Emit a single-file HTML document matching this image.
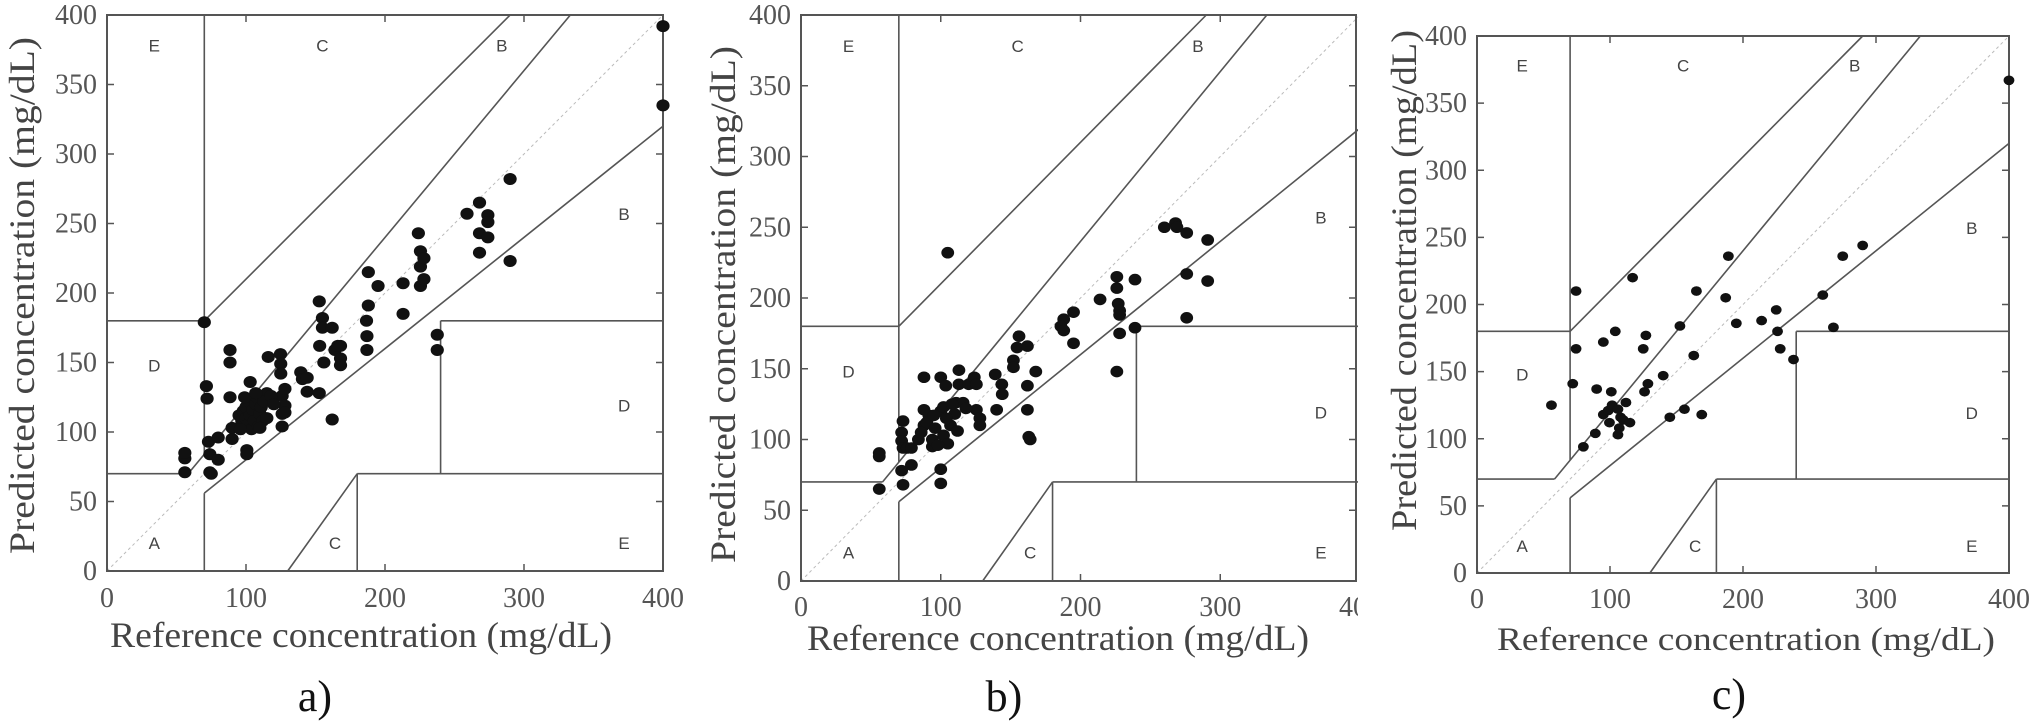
<!DOCTYPE html>
<html><head><meta charset="utf-8"><style>
html,body{margin:0;padding:0;background:#fff;}
svg{display:block;}
</style></head><body>
<svg id="chart" width="2032" height="724" viewBox="0 0 2032 724" xmlns="http://www.w3.org/2000/svg">
<defs><clipPath id="clipb"><rect x="0" y="0" width="1358" height="724"/></clipPath></defs>
</svg>
<script>
const ticks = [0, 100, 200, 300, 400];
const yTicks = [0, 50, 100, 150, 200, 250, 300, 350, 400];
const aRef = [56,56,56,70,71.5,72,73,74,74,75,80,80,88.5,88.5,88.5,90,90,100.6,100.6,103,116,117.5,115,124.8,125,125,126,126,126,128,128,128,139.4,140.6,144,144,152.7,152.7,155,155,153,156,162,162,164,166,168,168,168,188,188,186.7,187,187,195,213,213,224,225.5,225.5,225.5,228,228,237.6,237.6,259,268,268,268,274,274,274,290,290,400,400,95,97,98,100,100,101,102,103,104,105,106,107,108,109,110,111,112,113,115,118,120,96,99,107,110];
const aPred = [71,81,85,179,133,124,93,84,71,70,96,80,159,150,125,103,95,87,84,136,154,123,128,156,149,142,126,113,104,131,119,114,143,138,139,129,194,128,182,175,162,150,175,109,159,162,162,153,148,215,191,180,169,159,205,207,185,243,230,219,205,225,210,170,159,257,265,243,229,256,251,240,282,223,392,335,112,108,115,110,118,105,122,112,102,116,108,120,125,104,113,118,108,122,110,126,120,102,125,128,103];
const bRef = [56,56,56,72,73,73,72,72,73,76,79,79,88,88,88,91.5,94,94,100,100,100,100,105,103.6,102,102,105,107,110,111,113,113,116,120,124,125.5,125.5,128,128,139,140,143.7,144,152,152,154.6,156,162,162,162,163,164,168,84,86,90,96,98,104,108,112,118,95,188,186,188,195,195,214,226,226,227,228,228,228,226,239,239,260,268,269,276,276,276,291,291];
const bPred = [90.5,88,65,78,68,113,105,99,94,94,94,82,144,121,110,117,95,100,144,120,79,69,232,138,123,103,97,110,118,126,139,149,126,139,144,139,121,115,110,146,121,139,132,156,151,165,173,166,138,121,102,100,148,100,105,112,108,96,115,125,106,122,117,185,180,177,190,168,199,215,207,196,191,188,175,148,213,179,250,253,250,246,217,186,241,212];
const cRef = [56,72,74.5,74.5,80,89,90,95,95,99.6,98.7,101.6,101,104,106,107,108,110,112,115,106,117,125,126,127,128.5,140,145,152.6,156,163,165,169,187,189,195,214,225,226,228,238,260,268,275,290,400];
const cPred = [125,141,167,210,94,104,137,172,118,112,121,125,135,180,103,108,116,114,127,112,122,220,167,135,177,141,147,116,184,122,162,210,118,205,236,186,188,196,180,167,159,207,183,236,244,367];
const zoneLetters = ['A','B','B','C','C','D','D','E','E'];
const zoneLX = [34,284,372,155,164,34,372,34,372];
const zoneLY = [20,378,257,378,20,148,119,378,20];

const NS='http://www.w3.org/2000/svg';
const svg=document.getElementById('chart');
const SERIF='"Liberation Serif", serif';
function mk(tag,attrs,parent){const e=document.createElementNS(NS,tag);for(const k in attrs)e.setAttribute(k,attrs[k]);(parent||svg).appendChild(e);return e;}

const panels=[
 {id:'a',x0:107,x1:663,y0:571,y1:15,right:663,ref:aRef,pred:aPred,r:6,tcx:361,txY:647,tyX:22,tyTop:37,tyBot:554,tickY:607,tfs:36,lab:'a)',labX:315,labY:711},
 {id:'b',x0:801,x1:1360,y0:581,y1:15,right:1356,ref:bRef,pred:bPred,r:5.8,tcx:1058,txY:650,tyX:723,tyTop:46,tyBot:563,tickY:616,tfs:36,lab:'b)',labX:1004,labY:711},
 {id:'c',x0:1477,x1:2009,y0:573,y1:36,right:2009,ref:cRef,pred:cPred,r:4.8,tcx:1746,txY:650,tyX:1404,tyTop:30,tyBot:531,tickY:608,tfs:33,lab:'c)',labX:1729,labY:709}
];

panels.forEach(p=>{
  const g=mk('g',{});
  
  
  if(p.id==='b') g.setAttribute('clip-path','url(#clipb)');
  const sx=v=>p.x0+(p.x1-p.x0)*v/400;
  const sy=v=>p.y0+(p.y1-p.y0)*v/400;
  const line=(x1,y1,x2,y2,name)=>{const l=mk('line',{x1:sx(x1),y1:sy(y1),x2:sx(Math.min(x2,400)),y2:sy(y2),stroke:'#555','stroke-width':1.6},g);
    
    return l;};
  const d=mk('line',{x1:sx(0),y1:sy(0),x2:sx(400),y2:sy(400),stroke:'#bbb','stroke-width':1,'stroke-dasharray':'3,3'},g);
  
  
  line(0,70,175/3,70,'zone-boundary');
  line(175/3,70,400/1.2,400,'zone-boundary');
  line(70,84,70,400,'zone-boundary');
  line(0,180,70,180,'zone-boundary');
  line(70,180,290,400,'zone-boundary');
  line(70,0,70,56,'zone-boundary');
  line(70,56,400,320,'zone-boundary');
  line(180,0,180,70,'zone-boundary');
  line(180,70,400,70,'zone-boundary');
  line(240,70,240,180,'zone-boundary');
  line(240,180,400,180,'zone-boundary');
  line(130,0,180,70,'zone-boundary');
  const bx=mk('rect',{x:p.x0,y:p.y1,width:p.right-p.x0,height:p.y0-p.y1,fill:'none',stroke:'#555','stroke-width':2},g);
  
  
  ticks.forEach(t=>{
    const x=sx(t);
    mk('line',{x1:x,y1:p.y0,x2:x,y2:p.y0-7,stroke:'#555','stroke-width':1.5},g);
    mk('line',{x1:x,y1:p.y1,x2:x,y2:p.y1+7,stroke:'#555','stroke-width':1.5},g);
    const tl=mk('text',{x:x,y:p.tickY,'text-anchor':'middle','font-family':SERIF,'font-size':28,fill:'#555'},g);
    tl.textContent=t;
    
    
  });
  yTicks.forEach(t=>{
    const y=sy(t);
    mk('line',{x1:p.x0,y1:y,x2:p.x0+7,y2:y,stroke:'#555','stroke-width':1.5},g);
    mk('line',{x1:p.right,y1:y,x2:p.right-7,y2:y,stroke:'#555','stroke-width':1.5},g);
    const tl=mk('text',{x:p.x0-10,y:y+9,'text-anchor':'end','font-family':SERIF,'font-size':28,fill:'#555'},g);
    tl.textContent=t;
    
    
  });
  zoneLetters.forEach((L,i)=>{
    const t=mk('text',{x:sx(zoneLX[i]),y:sy(zoneLY[i])+6,'text-anchor':'middle','font-family':'"Liberation Sans", sans-serif','font-size':17,fill:'#444'},g);
    t.textContent=L;
    
    
  });
  p.ref.forEach((v,i)=>{
    const c=mk('ellipse',{cx:sx(v),cy:sy(p.pred[i]),rx:p.r+0.6,ry:p.r,fill:'#111'},g);
    
    
  });
  const xt=mk('text',{x:p.tcx,y:p.txY,'text-anchor':'middle','font-family':SERIF,'font-size':p.tfs,fill:'#444',textLength:(p.id==='c'?498:502),lengthAdjust:'spacingAndGlyphs'});
  xt.textContent='Reference concentration (mg/dL)';
  
  
  const cy=(p.tyTop+p.tyBot)/2;
  const yt=mk('text',{x:p.tyX,y:cy,'text-anchor':'middle','font-family':SERIF,'font-size':36,fill:'#444',transform:'rotate(-90 '+p.tyX+' '+cy+') translate(0 12)',textLength:p.tyBot-p.tyTop,lengthAdjust:'spacingAndGlyphs'});
  yt.textContent='Predicted concentration (mg/dL)';
  
  
  const lb=mk('text',{x:p.labX,y:p.labY,'text-anchor':'middle','font-family':SERIF,'font-size':44,fill:'#111'});
  lb.textContent=p.lab;
  
  
});
</script>
</body></html>
